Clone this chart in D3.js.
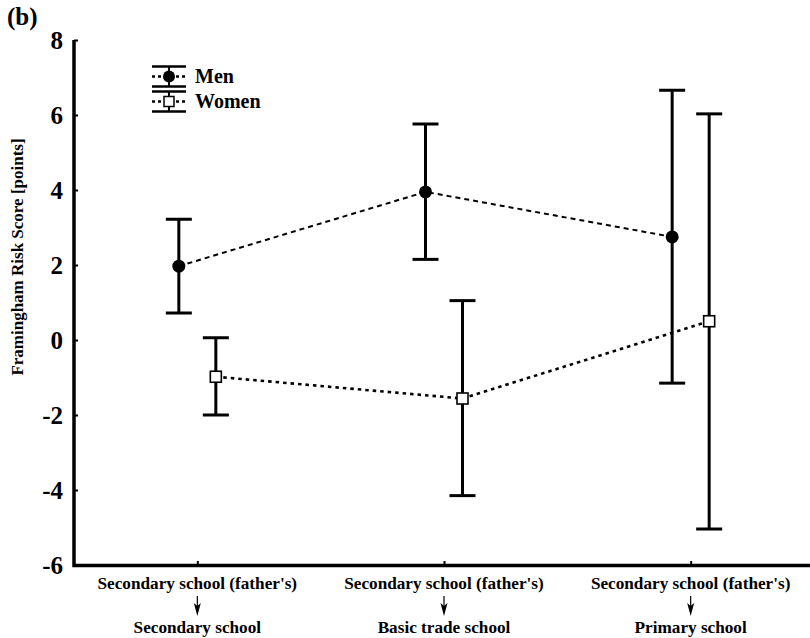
<!DOCTYPE html>
<html>
<head>
<meta charset="utf-8">
<script src="https://cdn.jsdelivr.net/npm/d3@7"></script>
<style>
  body { margin: 0; background: #fff; }
  text { font-family: "Liberation Serif", "Times New Roman", serif; font-weight: bold; }
</style>
</head>
<body>
<div id="chart"></div>
<script>
// categories: father's education -> own education
let categoryTop = ["Secondary school (father's)", "Secondary school (father's)", "Secondary school (father's)"];
let categoryBottom = ["Secondary school", "Basic trade school", "Primary school"];

let menMean  = [1.97, 3.95, 2.75];
let menLow   = [0.72, 2.15, -1.15];
let menHigh  = [3.22, 5.76, 6.66];

let womenMean = [-0.98, -1.56, 0.50];
let womenLow  = [-2.00, -4.15, -5.04];
let womenHigh = [0.06, 1.05, 6.03];

let yTicks = [8, 6, 4, 2, 0, -2, -4, -6];

let width = 810, height = 638;

let svg = d3.select("#chart").append("svg")
    .attr("width", width)
    .attr("height", height);

let y = d3.scaleLinear().domain([-6, 8]).range([565, 40]);
let x = d3.scalePoint().domain([0, 1, 2]).range([74, 814]).padding(0.5);
let offset = 18.5;

// panel letter
svg.append("text").attr("x", 7).attr("y", 25).attr("font-size", 25).text("(b)");

// y axis
let yAxis = svg.append("g").attr("transform", "translate(74,0)")
    .call(d3.axisLeft(y).tickValues(yTicks).tickSize(-4).tickPadding(11).tickFormat(d => String(d)));
yAxis.select(".domain").remove();
yAxis.selectAll(".tick line").attr("stroke-width", 2);
yAxis.selectAll(".tick text")
    .attr("font-size", 25)
    .attr("font-family", "Liberation Serif")
    .attr("font-weight", "bold")
    .attr("fill", "#000");

// x axis ticks
let xAxis = svg.append("g").attr("transform", "translate(0,565)")
    .call(d3.axisBottom(x).tickSize(-4).tickFormat(""));
xAxis.select(".domain").remove();
xAxis.selectAll(".tick line").attr("stroke-width", 2);

// axis lines
svg.append("path")
    .attr("d", "M74,40V565.5H810")
    .attr("fill", "none").attr("stroke", "#000").attr("stroke-width", 3.5);

// y axis title
svg.append("text")
    .attr("transform", "translate(23,257) rotate(-90)")
    .attr("text-anchor", "middle")
    .attr("font-size", 17)
    .text("Framingham Risk Score [points]");

// category labels
let cats = svg.append("g");
[0, 1, 2].forEach(i => {
    let cx = x(i);
    cats.append("text").attr("x", cx).attr("y", 589)
        .attr("text-anchor", "middle").attr("font-size", 17.2).text(categoryTop[i]);
    cats.append("line").attr("x1", cx).attr("x2", cx).attr("y1", 596).attr("y2", 608)
        .attr("stroke", "#000").attr("stroke-width", 1.2);
    cats.append("path").attr("d", `M${cx - 3.5},603L${cx},616L${cx + 3.5},603L${cx},606Z`)
        .attr("fill", "#000");
    cats.append("text").attr("x", cx).attr("y", 633)
        .attr("text-anchor", "middle").attr("font-size", 17.2).text(categoryBottom[i]);
});

function drawSeries(mean, low, high, dx, dash, lw, filled) {
    let g = svg.append("g");
    let line = d3.line().x((d, i) => x(i) + dx).y(d => y(d));
    g.append("path").datum(mean)
        .attr("d", line)
        .attr("fill", "none").attr("stroke", "#000")
        .attr("stroke-width", lw).attr("stroke-dasharray", dash);

    mean.forEach((m, i) => {
        let cx = x(i) + dx;
        g.append("line").attr("x1", cx).attr("x2", cx)
            .attr("y1", y(low[i])).attr("y2", y(high[i]))
            .attr("stroke", "#000").attr("stroke-width", 3);
        [low[i], high[i]].forEach(v => {
            g.append("line").attr("x1", cx - 13).attr("x2", cx + 13)
                .attr("y1", y(v)).attr("y2", y(v))
                .attr("stroke", "#000").attr("stroke-width", 3);
        });
        if (filled) {
            g.append("circle").attr("cx", cx).attr("cy", y(m)).attr("r", 6.5).attr("fill", "#000");
        } else {
            g.append("rect").attr("x", cx - 5.5).attr("y", y(m) - 5.5)
                .attr("width", 11).attr("height", 11)
                .attr("fill", "#fff").attr("stroke", "#000").attr("stroke-width", 1.6);
        }
    });
}

drawSeries(menMean, menLow, menHigh, -offset, "5,4", 2, true);
drawSeries(womenMean, womenLow, womenHigh, offset, "3.5,4", 2.6, false);

// legend
let legend = svg.append("g");
function legendItem(cy, dash, filled, label) {
    let g = legend.append("g");
    g.append("line").attr("x1", 152).attr("x2", 186).attr("y1", cy - 10).attr("y2", cy - 10)
        .attr("stroke", "#000").attr("stroke-width", 2.5);
    g.append("line").attr("x1", 152).attr("x2", 186).attr("y1", cy + 10).attr("y2", cy + 10)
        .attr("stroke", "#000").attr("stroke-width", 2.5);
    g.append("line").attr("x1", 169).attr("x2", 169).attr("y1", cy - 10).attr("y2", cy + 10)
        .attr("stroke", "#000").attr("stroke-width", 2);
    g.append("line").attr("x1", 152).attr("x2", 186).attr("y1", cy).attr("y2", cy)
        .attr("stroke", "#000").attr("stroke-width", 2.5).attr("stroke-dasharray", dash);
    if (filled) {
        g.append("circle").attr("cx", 169).attr("cy", cy).attr("r", 6).attr("fill", "#000");
    } else {
        g.append("rect").attr("x", 164).attr("y", cy - 5).attr("width", 10).attr("height", 10)
            .attr("fill", "#fff").attr("stroke", "#000").attr("stroke-width", 1.5);
    }
    g.append("text").attr("x", 195).attr("y", cy + 6.5).attr("font-size", 20).text(label);
}
legendItem(76.5, "3,3", true, "Men");
legendItem(101.5, "3,3", false, "Women");
</script>
</body>
</html>
